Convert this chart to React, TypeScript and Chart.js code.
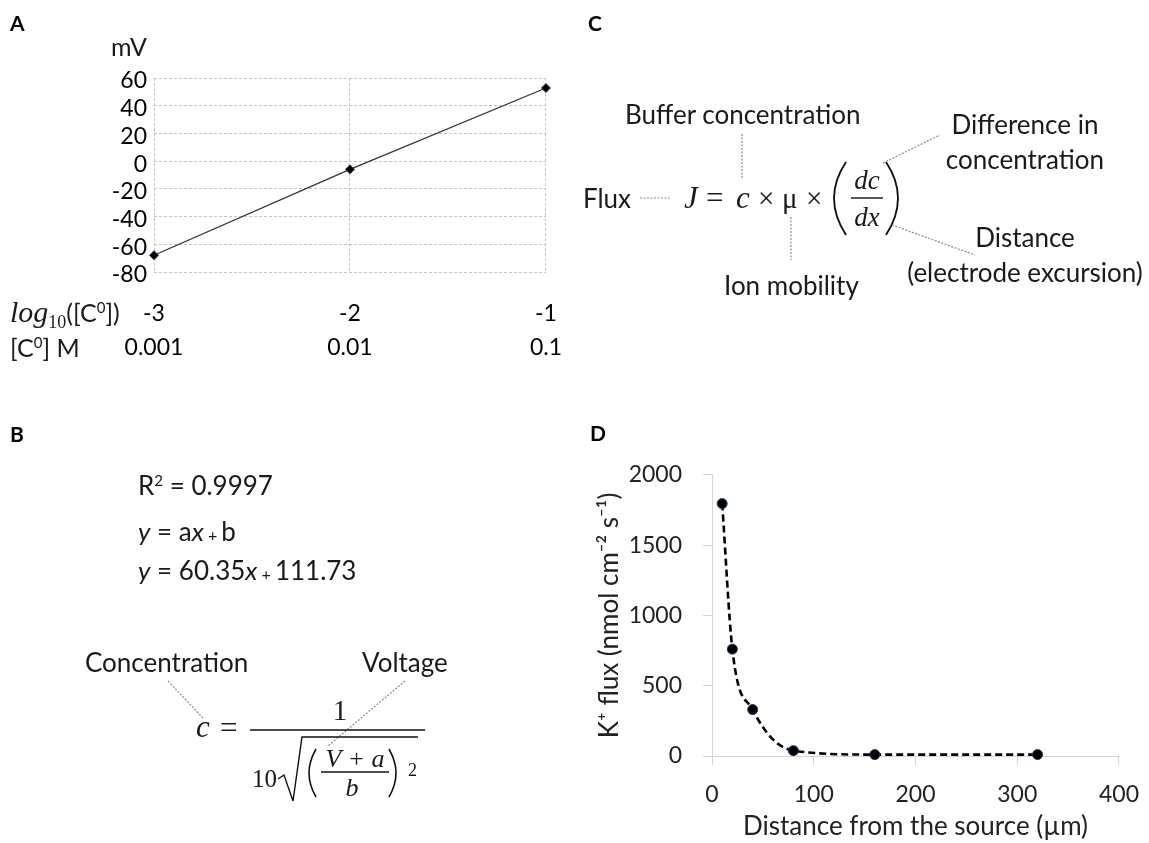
import React, { useEffect, useRef } from "react";
import { Chart, registerables } from "chart.js";
Chart.register(...registerables);

const SANS = "Lato, 'Open Sans', sans-serif";
const SERIF = "'Liberation Serif', 'DejaVu Serif', serif";

// ---- Panel A data ----
const logConcentration = [-3, -2, -1];
const logTickLabels = ["-3", "-2", "-1"];
const concTickLabels = ["0.001", "0.01", "0.1"];
const potentialMv = [-67.9, -5.9, 52.8];
const mvMin = -80;
const mvMax = 60;
const mvStep = 20;

// ---- Panel D data ----
const distanceUm = [10, 20, 40, 80, 160, 320];
const kFlux = [1795, 760, 330, 38, 10, 10];
const distMin = 0;
const distMax = 400;
const distStep = 100;
const fluxMin = 0;
const fluxMax = 2000;
const fluxStep = 500;

function ChartA() {
  const ref = useRef<HTMLCanvasElement>(null);
  useEffect(() => {
    const chart = new Chart(ref.current!, {
      type: "line",
      data: {
        datasets: [
          {
            data: logConcentration.map((x, i) => ({ x, y: potentialMv[i] })),
            borderColor: "#333",
            borderWidth: 1.3,
            pointStyle: "rectRot",
            pointRadius: 4.5,
            pointBackgroundColor: "#000",
            pointBorderColor: "#1f3a6b",
            pointBorderWidth: 1,
            tension: 0,
            clip: false,
          } as any,
        ],
      },
      options: {
        animation: false,
        responsive: false,
        maintainAspectRatio: false,
        plugins: { legend: { display: false }, tooltip: { enabled: false } },
        layout: { padding: { top: 28, right: 27, left: 0, bottom: 0 } },
        scales: {
          x: {
            type: "linear",
            min: -3,
            max: -1,
            ticks: {
              stepSize: 1,
              padding: 25,
              color: "#000",
              maxRotation: 0,
              autoSkip: false,
              font: { family: SANS, size: 23, lineHeight: 34 / 23 },
              callback: (_v: any, i: number) => [logTickLabels[i], concTickLabels[i]],
            },
            grid: { color: "#c6c6c6", drawTicks: false, lineWidth: 1 },
            border: { display: false, dash: [3, 2] },
            afterFit: (s: any) => {
              s.height = 98;
            },
          },
          y: {
            min: mvMin,
            max: mvMax,
            ticks: {
              stepSize: mvStep,
              padding: 7,
              autoSkip: false,
              labelOffset: 3,
              color: "#000",
              font: { family: SANS, size: 23 },
            },
            grid: { color: "#c6c6c6", drawTicks: false, lineWidth: 1 },
            border: { display: false, dash: [3, 2] },
            afterFit: (s: any) => {
              s.width = 104;
            },
          },
        },
      } as any,
    });
    return () => chart.destroy();
  }, []);
  return (
    <canvas
      ref={ref}
      width={537}
      height={320}
      style={{ position: "absolute", left: 50, top: 50, width: 537, height: 320 }}
    />
  );
}

function ChartD() {
  const ref = useRef<HTMLCanvasElement>(null);
  useEffect(() => {
    const chart = new Chart(ref.current!, {
      type: "line",
      data: {
        datasets: [
          {
            data: distanceUm.map((x, i) => ({ x, y: kFlux[i] })),
            borderColor: "#000",
            borderWidth: 2.6,
            borderDash: [7, 4],
            cubicInterpolationMode: "monotone",
            pointRadius: 5,
            pointBackgroundColor: "#000",
            pointBorderColor: "#1f3a6b",
            pointBorderWidth: 1,
            clip: false,
          } as any,
        ],
      },
      options: {
        animation: false,
        responsive: false,
        maintainAspectRatio: false,
        plugins: { legend: { display: false }, tooltip: { enabled: false } },
        layout: { padding: { top: 20, right: 29, left: 0, bottom: 0 } },
        scales: {
          x: {
            type: "linear",
            min: distMin,
            max: distMax,
            ticks: {
              stepSize: distStep,
              padding: 16,
              color: "#222",
              maxRotation: 0,
              font: { family: SANS, size: 23 },
              callback: (v: any) => String(v),
            },
            grid: { drawOnChartArea: false, color: "#d4d4d4", tickLength: 9 },
            border: { color: "#d4d4d4" },
            title: {
              display: true,
              text: "Distance from the source (µm)",
              color: "#222",
              font: { family: SANS, size: 26 },
              padding: { top: 0, bottom: 1 },
            },
            afterFit: (s: any) => {
              s.height = 87;
            },
          },
          y: {
            min: fluxMin,
            max: fluxMax,
            ticks: {
              stepSize: fluxStep,
              padding: 21,
              color: "#222",
              font: { family: SANS, size: 23 },
              callback: (v: any) => String(v),
            },
            grid: { drawOnChartArea: false, color: "#d4d4d4", tickLength: 9 },
            border: { color: "#d4d4d4" },
            title: {
              display: true,
              text: "K⁺ flux (nmol cm⁻² s⁻¹)",
              color: "#222",
              font: { family: SANS, size: 26 },
              padding: { top: 9, bottom: 0 },
            },
            afterFit: (s: any) => {
              s.width = 127;
            },
          },
        },
      } as any,
    });
    return () => chart.destroy();
  }, []);
  return (
    <canvas
      ref={ref}
      width={570}
      height={403}
      style={{ position: "absolute", left: 585, top: 440, width: 570, height: 403 }}
    />
  );
}

function Overlay() {
  const lead = { stroke: "#8a8a8a", strokeWidth: 1.2, strokeDasharray: "2,1.5", fill: "none" } as any;
  const t = { fontFamily: SANS, fontSize: 26, fill: "#1a1a1a" } as any;
  const m = { fontFamily: SERIF, fill: "#1a1a1a" } as any;
  const bold = { fontFamily: SANS, fontWeight: "bold", fontSize: 21, fill: "#000" } as any;
  return (
    <svg
      width={1149}
      height={843}
      style={{ position: "absolute", left: 0, top: 0, pointerEvents: "none" }}
    >
      {/* Panel letters */}
      <text x={10} y={31} {...bold}>A</text>
      <text x={10} y={442} {...bold}>B</text>
      <text x={588} y={31} {...bold}>C</text>
      <text x={590} y={441} {...bold}>D</text>

      {/* Panel A extra labels */}
      <text x={111} y={56} {...t} fontSize={25}>mV</text>
      <text x={10} y={322} {...t} fontSize={25}>
        <tspan fontFamily={SERIF} fontStyle="italic" fontSize={30}>log</tspan>
        <tspan fontFamily={SERIF} fontSize={18} dy={6}>10</tspan>
        <tspan dy={-6}>([C</tspan>
        <tspan fontSize={15} dy={-9}>0</tspan>
        <tspan dy={9}>])</tspan>
      </text>
      <text x={10} y={357} {...t} fontSize={25}>
        [C<tspan fontSize={15} dy={-9}>0</tspan>
        <tspan dy={9}>] M</tspan>
      </text>

      {/* Panel B */}
      <text x={138} y={495} {...t}>
        R<tspan fontSize={15} dy={-9}>2</tspan>
        <tspan dy={9}> = 0.9997</tspan>
      </text>
      <text x={138} y={541} {...t}>
        <tspan fontStyle="italic">y</tspan> = a<tspan fontStyle="italic">x</tspan>
        <tspan fontSize={16}> + </tspan>b
      </text>
      <text x={138} y={580} {...t}>
        <tspan fontStyle="italic">y</tspan> = 60.35<tspan fontStyle="italic">x</tspan>
        <tspan fontSize={16}> + </tspan>111.73
      </text>
      <text x={85} y={672} {...t}>Concentration</text>
      <text x={362} y={672} {...t}>Voltage</text>
      <line x1={168} y1={681} x2={203} y2={718} {...lead} />
      <line x1={405} y1={681} x2={328} y2={746} {...lead} />
      <text x={196} y={737} {...m} fontSize={31} fontStyle="italic">c</text>
      <text x={220} y={738} {...m} fontSize={31}>=</text>
      <line x1={250} y1={730} x2={425} y2={730} stroke="#111" strokeWidth={1.6} />
      <text x={340} y={720} {...m} fontSize={29} textAnchor="middle">1</text>
      <text x={252} y={787} {...m} fontSize={25}>10</text>
      <path d="M 278 779 L 284 775 L 293 801 L 302 737 L 418 737" stroke="#111" strokeWidth={1.4} fill="none" />
      <path d="M 316 749 Q 302 773 316 797" stroke="#111" strokeWidth={1.6} fill="none" />
      <path d="M 389 749 Q 403 773 389 797" stroke="#111" strokeWidth={1.6} fill="none" />
      <text x={355} y={767} {...m} fontSize={26} fontStyle="italic" textAnchor="middle">V + a</text>
      <line x1={321} y1={772} x2={389} y2={772} stroke="#111" strokeWidth={1.3} />
      <text x={352} y={796} {...m} fontSize={26} fontStyle="italic" textAnchor="middle">b</text>
      <text x={408} y={776} {...m} fontSize={18}>2</text>

      {/* Panel C */}
      <text x={625} y={124} {...t}>Buffer concentration</text>
      <line x1={742} y1={134} x2={742} y2={180} {...lead} />
      <text x={583} y={208} {...t}>Flux</text>
      <line x1={640} y1={198} x2={670} y2={198} {...lead} />
      <text x={684} y={208} {...m} fontSize={31} fontStyle="italic">J</text>
      <text x={706} y={208} {...m} fontSize={31}>=</text>
      <text x={736} y={208} {...m} fontSize={31} fontStyle="italic">c</text>
      <text x={758} y={208} {...m} fontSize={29}>×</text>
      <text x={782} y={208} {...m} fontSize={29}>μ</text>
      <text x={806} y={208} {...m} fontSize={29}>×</text>
      <path d="M 846 162 Q 822 198 846 235" stroke="#111" strokeWidth={1.8} fill="none" />
      <path d="M 886 162 Q 910 198 886 235" stroke="#111" strokeWidth={1.8} fill="none" />
      <text x={867} y={189} {...m} fontSize={27} fontStyle="italic" textAnchor="middle">dc</text>
      <line x1={851} y1={198} x2={883} y2={198} stroke="#111" strokeWidth={1.4} />
      <text x={867} y={226} {...m} fontSize={27} fontStyle="italic" textAnchor="middle">dx</text>
      <line x1={791} y1={217} x2={791} y2={260} {...lead} />
      <text x={724} y={295} {...t}>Ion mobility</text>
      <line x1={883} y1={163} x2={940} y2={135} {...lead} />
      <line x1={892} y1={225} x2={975} y2={255} {...lead} />
      <text x={1025} y={134} {...t} textAnchor="middle">Difference in</text>
      <text x={1025} y={169} {...t} textAnchor="middle">concentration</text>
      <text x={1025} y={247} {...t} textAnchor="middle">Distance</text>
      <text x={1025} y={282} {...t} textAnchor="middle">(electrode excursion)</text>
    </svg>
  );
}

export default function App() {
  return (
    <div
      style={{
        position: "absolute",
        left: 0,
        top: 0,
        width: 1149,
        height: 843,
        background: "#fff",
        overflow: "hidden",
      }}
    >
      <ChartA />
      <ChartD />
      <Overlay />
    </div>
  );
}
